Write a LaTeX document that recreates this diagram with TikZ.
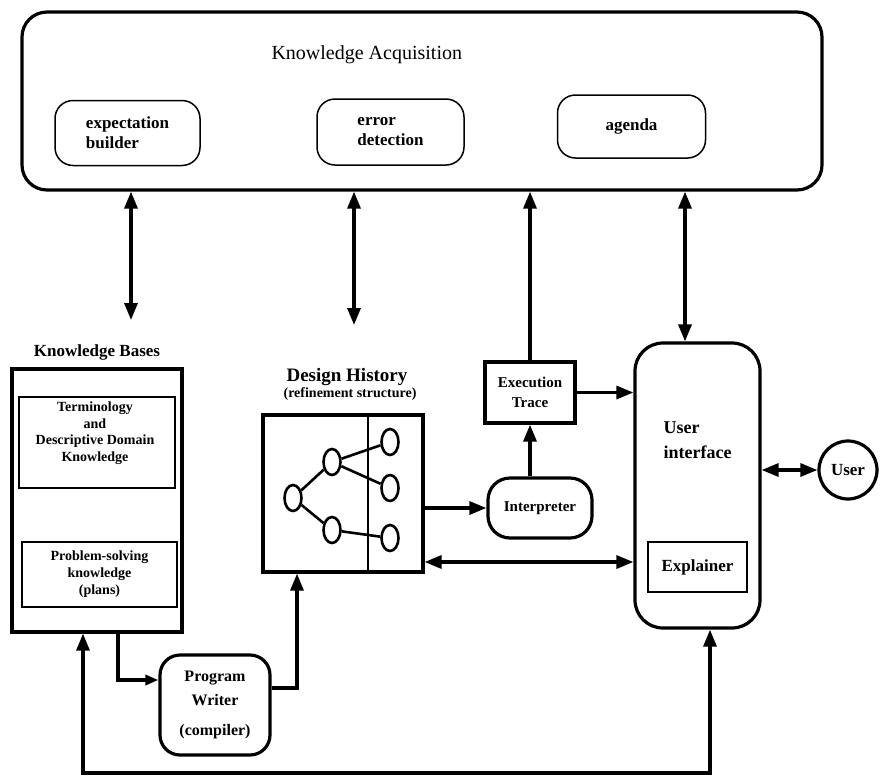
\documentclass[tikz,border=0pt]{standalone}
\usepackage{fontspec}
\setmainfont{Liberation Serif}
\usetikzlibrary{arrows.meta,calc,shapes.geometric}
\begin{document}
\begin{tikzpicture}[x=1pt,y=-1pt,
  thickbox/.style={draw,line width=3.2pt,inner sep=0pt,align=center},
  thinbox/.style={draw,line width=1.5pt,inner sep=0pt,align=center},
  conn/.style={line width=3.2pt,-{Triangle[length=17pt,width=13pt]}},
  dconn/.style={line width=3.2pt,{Triangle[length=17pt,width=13pt]}-{Triangle[length=17pt,width=13pt]}},
  tnode/.style={draw,ellipse,line width=2.6pt,inner sep=0pt,minimum width=17pt,minimum height=26pt},
  tedge/.style={line width=2.6pt},
  bf/.style={font=\bfseries\fontsize{#1}{#1}\selectfont},
]
\useasboundingbox (0,0) rectangle (881,777);

% Knowledge Acquisition
\node[thickbox,rounded corners=25pt,minimum width=800pt,minimum height=178pt] (KA) at (422,101) {};
\node[anchor=west,font=\fontsize{20}{24}\selectfont] (KAt) at (268,55) {Knowledge Acquisition};
\node[thinbox,rounded corners=18pt,minimum width=145pt,minimum height=65pt,align=left,bf=17] (eb) at (127.5,133) {expectation\\[3pt]builder};
\node[thinbox,rounded corners=18pt,minimum width=147pt,minimum height=66pt,align=left,bf=17] (ed) at (390.5,132) {error\\[3pt]detection};
\node[thinbox,rounded corners=18pt,minimum width=148pt,minimum height=63pt,bf=17] (ag) at (631.5,126.5) {agenda};

% Knowledge Bases
\node[bf=17] (KBt) at (97,352) {Knowledge Bases};
\node[thickbox,minimum width=170pt,minimum height=263pt] (KB) at (97,500.5) {};
\node[thinbox,minimum width=156pt,minimum height=91pt] (Term) at (97,442.5) {};
\node[align=center,font=\bfseries\fontsize{14}{16.5}\selectfont] (Termt) at (95,433) {Terminology\\and\\Descriptive Domain\\Knowledge};
\node[thinbox,minimum width=155pt,minimum height=65pt,font=\bfseries\fontsize{14}{17}\selectfont] (Prob) at (99.5,574.5) {Problem-solving\\knowledge\\(plans)};

% Program Writer
\node[thickbox,rounded corners=20pt,minimum width=110pt,minimum height=100pt,font=\bfseries\fontsize{16}{24}\selectfont] (PW) at (215,705) {Program\\Writer\\[6pt](compiler)};

% Design History
\node[bf=19] (DHt) at (347,377) {Design History};
\node[bf=14] (DHs) at (350,394) {(refinement structure)};
\node[thickbox,minimum width=160pt,minimum height=157pt] (DH) at (343,493.5) {};
\draw[line width=1.3pt] (DH.north -| 368,0) -- (DH.south -| 368,0);
\node[tnode] (t0) at (293,498) {};
\node[tnode] (t1) at (332,462) {};
\node[tnode] (t2) at (332,530) {};
\node[tnode] (t3) at (390,442) {};
\node[tnode] (t4) at (390,488) {};
\node[tnode] (t5) at (390,538) {};
\draw[tedge] (t0) -- (t1);
\draw[tedge] (t0) -- (t2);
\draw[tedge] (t1) -- (t3);
\draw[tedge] (t1) -- (t4);
\draw[tedge] (t2) -- (t5);

% Execution Trace / Interpreter
\node[thickbox,minimum width=90pt,minimum height=61pt,font=\bfseries\fontsize{15}{20}\selectfont] (ET) at (530,392.5) {Execution\\Trace};
\node[thickbox,rounded corners=22pt,minimum width=104pt,minimum height=60pt,bf=15] (Int) at (540,508) {Interpreter};

% User interface
\node[thickbox,rounded corners=28pt,minimum width=125pt,minimum height=285pt] (UI) at (697.5,485.5) {};
\node[anchor=west,align=left,font=\bfseries\fontsize{18}{25}\selectfont] (UIt) at (660,440) {User\\interface};
\node[thinbox,minimum width=99pt,minimum height=50pt,bf=17] (Ex) at (697.5,567) {Explainer};
\node[draw,circle,line width=3.2pt,minimum size=58pt,inner sep=0pt,bf=17] (User) at (848,470) {User};

% coordinates
\coordinate (c1) at (131,320);
\coordinate (c2) at (354,325);
\coordinate (c4) at (685,0);
\coordinate (kbx) at (118,0);
\coordinate (pwin) at (0,680);
\coordinate (pwout) at (0,688);
\coordinate (dhx) at (297,0);
\coordinate (dy) at (0,562);
\coordinate (b1) at (83,773);
\coordinate (b2) at (710,773);

% connectors
\draw[dconn] (KA.south -| c1) -- (c1);
\draw[dconn] (KA.south -| c2) -- (c2);
\draw[conn] (ET.north) -- (KA.south -| ET.north);
\draw[dconn] (KA.south -| c4) -- (UI.north -| c4);
\draw[conn] (Int.north -| ET.south) -- (ET.south);
\draw[conn] (ET.east) -- (UI.west |- ET.east);
\draw[conn] (DH.east |- Int.west) -- (Int.west);
\draw[dconn] (DH.east |- dy) -- (UI.west |- dy);
\draw[dconn] (UI.east |- User.west) -- (User.west);
\draw[line width=3.2pt,-{Triangle[length=13pt,width=10pt]}] (KB.south -| kbx) |- (PW.west |- pwin);
\draw[conn] (PW.east |- pwout) -| (DH.south -| dhx);
\draw[dconn] (KB.south -| b1) -- (b1) -- (b2) -- (UI.south -| b2);
\end{tikzpicture}
\end{document}
